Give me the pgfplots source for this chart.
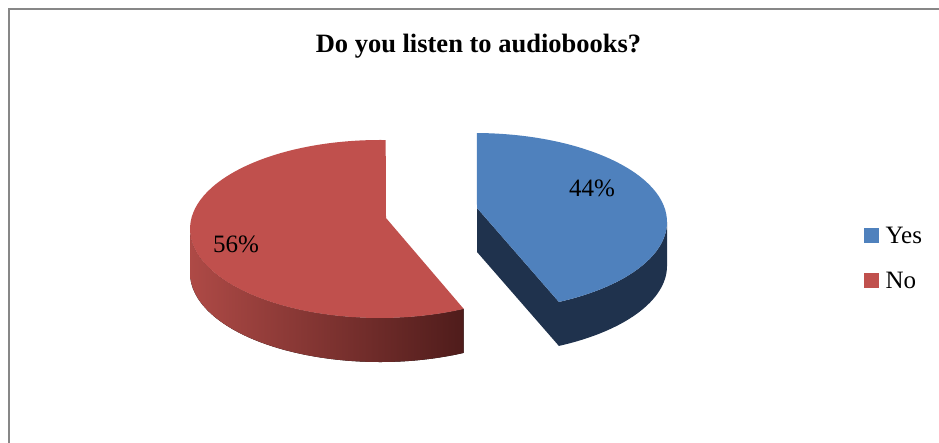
\documentclass[border=0pt]{standalone}
\usepackage{pgfplots}
\usepackage{pgfplotstable}
\pgfplotsset{compat=1.18}
\usepackage{fontspec}
\setmainfont{Liberation Serif}

\definecolor{blueTop}{HTML}{4F81BD}
\definecolor{blueSide}{HTML}{1F324D}
\definecolor{redTop}{HTML}{C0504D}
\definecolor{redSideL}{HTML}{AE4A46}
\definecolor{redSideR}{HTML}{4F1C1B}
\definecolor{frameGray}{HTML}{878787}

\pgfplotstableread{
label value
Yes 44
No 56
}\piedata

% projected rim angle of a pie angle #1 for an ellipse (#2,#3,#4,#5) seen from apex (#6,#7)
\newcommand\kleinangle[7]{%
  \pgfmathsetmacro\kpx{(#6-#2)/#4}%
  \pgfmathsetmacro\kpy{(#7-#3)/#5}%
  \pgfmathsetmacro\kpu{\kpx*cos(#1)+\kpy*sin(#1)}%
  \pgfmathsetmacro\kpp{\kpx*\kpx+\kpy*\kpy}%
  \pgfmathsetmacro\kg{1/sqrt(1-\kpp)}%
  \pgfmathsetmacro\kc{(\kg-1)*\kpu/\kpp+\kg}%
  \pgfmathsetmacro\kX{cos(#1)+\kc*\kpx}%
  \pgfmathsetmacro\kY{sin(#1)+\kc*\kpy}%
  \pgfmathsetmacro\kTheta{atan2(\kY,\kX)}%
}

\begin{document}
\begin{tikzpicture}
\useasboundingbox (0,0) rectangle (939pt,443pt);
\draw[line width=2pt, frameGray] (9pt,-20pt) rectangle (960pt,434pt);

\pgfplotstablegetelem{0}{value}\of\piedata \edef\vYes{\pgfplotsretval}
\pgfplotstablegetelem{1}{value}\of\piedata \edef\vNo{\pgfplotsretval}
\pgfmathsetmacro\yesAng{360*(\vYes/(\vYes+\vNo))}
\pgfmathsetmacro\noAng{360*(\vNo/(\vYes+\vNo))}
\def\h{44}
% red (No) slice geometry
\def\rcx{380}\def\rcy{214}\def\rrx{190}\def\rry{89}\def\rax{386}\def\ray{225}
% blue (Yes) slice geometry
\def\bcx{474}\def\bcy{221}\def\brx{193}\def\bry{89}\def\bax{477}\def\bay{235}

\kleinangle{90}{\rcx}{\rcy}{\rrx}{\rry}{\rax}{\ray}\let\rS\kTheta
\kleinangle{90+\noAng}{\rcx}{\rcy}{\rrx}{\rry}{\rax}{\ray}
\pgfmathsetmacro\rE{ifthenelse(\kTheta<\rS,\kTheta+360,\kTheta)}
\kleinangle{90}{\bcx}{\bcy}{\brx}{\bry}{\bax}{\bay}\let\bS\kTheta
\kleinangle{90-\yesAng}{\bcx}{\bcy}{\brx}{\bry}{\bax}{\bay}\let\bE\kTheta

\pgfmathsetmacro\rSx{\rcx+\rrx*cos(\rS)}\pgfmathsetmacro\rSy{\rcy+\rry*sin(\rS)}
\pgfmathsetmacro\rEx{\rcx+\rrx*cos(\rE)}\pgfmathsetmacro\rEy{\rcy+\rry*sin(\rE)}
\pgfmathsetmacro\bSx{\bcx+\brx*cos(\bS)}\pgfmathsetmacro\bSy{\bcy+\bry*sin(\bS)}
\pgfmathsetmacro\bEx{\bcx+\brx*cos(\bE)}\pgfmathsetmacro\bEy{\bcy+\bry*sin(\bE)}
\pgfmathsetmacro\rLx{\rcx-\rrx}\pgfmathsetmacro\bRx{\bcx+\brx}
\pgfmathsetmacro\rEyb{\rEy-\h}\pgfmathsetmacro\bEyb{\bEy-\h}
\pgfmathsetmacro\rcyb{\rcy-\h}\pgfmathsetmacro\bcyb{\bcy-\h}
\pgfmathsetmacro\bayb{\bay-\h}

\begin{axis}[
  x=1pt, y=1pt, xmin=0, xmax=939, ymin=0, ymax=443,
  hide axis, anchor=origin, at={(0pt,0pt)}, clip=false,
  legend style={
    at={(axis cs:864,217)}, anchor=north west, draw=none, fill=none,
    inner sep=0pt, font=\fontsize{25}{30}\selectfont, row sep=22pt, column sep=7pt,
    nodes={inner sep=0pt, text height=17pt, text depth=6pt},
  },
  legend cell align=left,
  legend image code/.code={\fill[#1] (0pt,-5pt) rectangle (14pt,9pt);},
]
\addlegendimage{blueTop}
\addlegendentry{Yes}
\addlegendimage{redTop}
\addlegendentry{No}

% red slice: outer side then top face
\fill[left color=redSideL, right color=redSideR]
  (\rLx,\rcy) arc[start angle=180, end angle=\rE, x radius=\rrx, y radius=\rry]
  -- (\rEx,\rEyb) arc[start angle=\rE, end angle=180, x radius=\rrx, y radius=\rry]
  -- cycle;
\fill[redTop] (\rax,\ray) -- (\rSx,\rSy)
  arc[start angle=\rS, end angle=\rE, x radius=\rrx, y radius=\rry] -- cycle;

% blue slice: cut face, outer side, top face
\fill[blueSide] (\bax,\bay) -- (\bEx,\bEy) -- (\bEx,\bEyb) -- (\bax,\bayb) -- cycle;
\fill[blueSide]
  (\bEx,\bEy) arc[start angle=\bE, end angle=0, x radius=\brx, y radius=\bry]
  -- (\bRx,\bcyb) arc[start angle=0, end angle=\bE, x radius=\brx, y radius=\bry]
  -- cycle;
\fill[blueTop] (\bax,\bay) -- (\bSx,\bSy)
  arc[start angle=\bS, end angle=\bE, x radius=\brx, y radius=\bry] -- cycle;

\node[font=\fontsize{25}{30}\selectfont] at (axis cs:592,255) {44\%};
\node[font=\fontsize{25}{30}\selectfont] at (axis cs:236,199) {56\%};
\node[font=\bfseries\fontsize{26.5}{32}\selectfont, anchor=base] at (axis cs:478.5,390) {Do you listen to audiobooks?};
\end{axis}
\end{tikzpicture}
\end{document}
